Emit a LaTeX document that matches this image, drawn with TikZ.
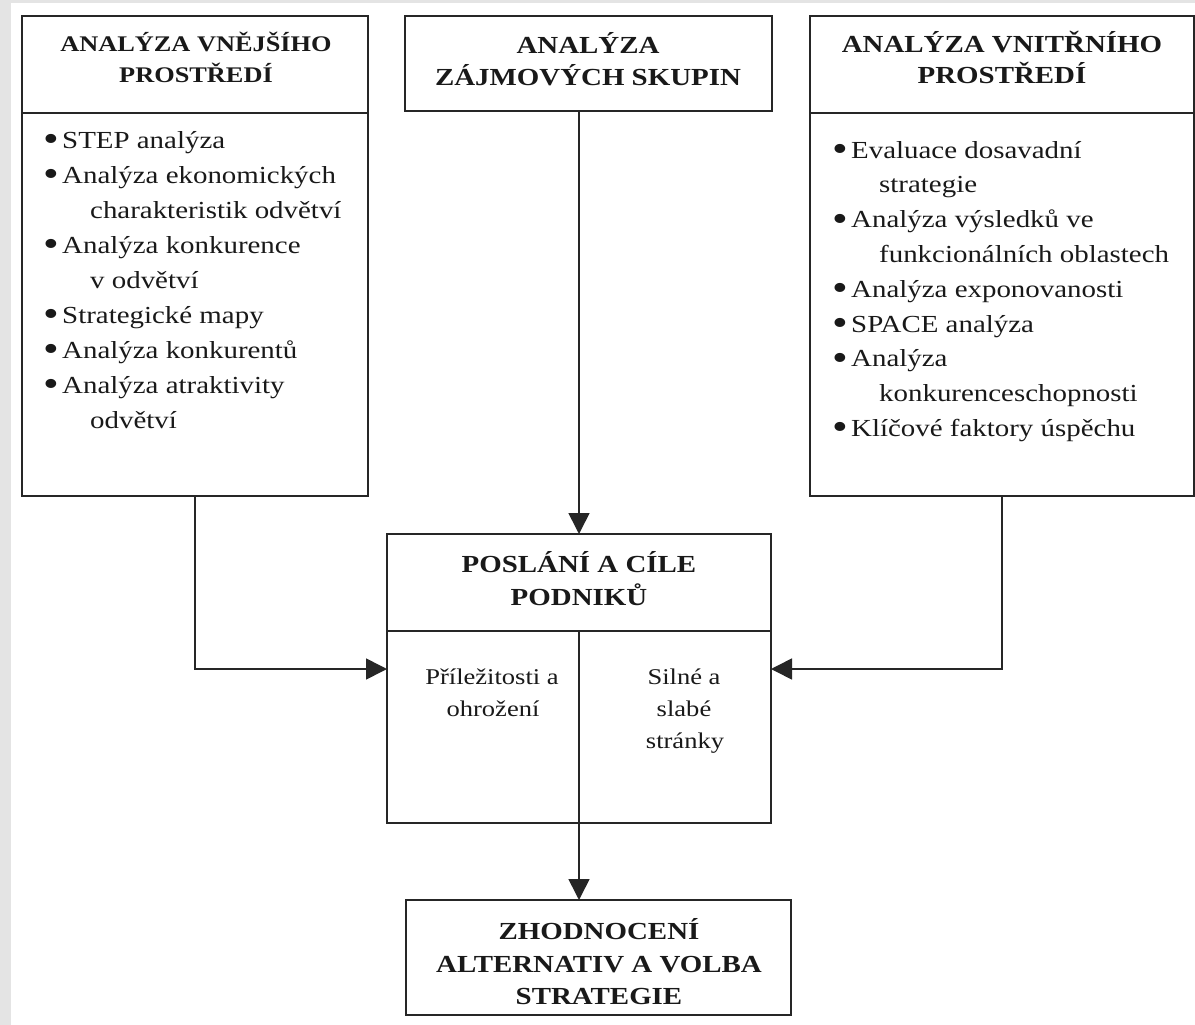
\documentclass[tikz,border=0pt]{standalone}
\usepackage{fontspec}
\setmainfont{Liberation Serif}[FakeStretch=1.18]
\usetikzlibrary{arrows.meta}
\definecolor{linecol}{HTML}{262626}
\definecolor{pagegrey}{HTML}{E4E4E4}
\tikzset{
  box/.style={draw=linecol, line width=1.6pt, rectangle, inner sep=0pt, outer sep=0pt},
  ttl/.style={anchor=base, inner sep=0pt, font=\fontsize{24.5}{30}\selectfont\bfseries, text=black!90},
  ttlsmall/.style={ttl, font=\fontsize{22.3}{28}\selectfont\bfseries},
  itm/.style={anchor=base west, inner sep=0pt, font=\fontsize{24.5}{35}\selectfont, text=black!90},
  sml/.style={anchor=base, inner sep=0pt, font=\fontsize{22.5}{32}\selectfont, text=black!90},
  arr/.style={draw=linecol, line width=1.6pt, -{Triangle[length=21pt,width=21pt]}},
}
\newcommand{\bul}{\makebox[19pt][l]{\raisebox{-3.5pt}{\scalebox{1.55}{\textbullet}}}}
\begin{document}
\begin{tikzpicture}[x=1pt,y=-1pt]
\fill[pagegrey] (0,0) rectangle (1195,1025);
\fill[white] (11,3) rectangle (1195,1025);
\useasboundingbox (0,0) rectangle (1195,1025);

% boxes
\node[box, minimum width=346pt, minimum height=97pt]  (lt) at (195,64.5) {};
\node[box, minimum width=346pt, minimum height=383pt] (lb) at (195,304.5) {};
\node[box, minimum width=367pt, minimum height=95pt]  (mt) at (588.5,63.5) {};
\node[box, minimum width=384pt, minimum height=97pt]  (rt) at (1002,64.5) {};
\node[box, minimum width=384pt, minimum height=383pt] (rb) at (1002,304.5) {};
\node[box, minimum width=384pt, minimum height=97pt]  (ct) at (579,582.5) {};
\node[box, minimum width=384pt, minimum height=192pt] (cb) at (579,727) {};
\node[box, minimum width=385pt, minimum height=115pt] (bt) at (598.5,957.5) {};

% titles
\node[ttlsmall] (lt1) at (196,52) {ANALÝZA VNĚJŠÍHO};
\node[ttlsmall] (lt2) at (196,82) {PROSTŘEDÍ};
\node[ttl] (mt1) at (588,54) {ANALÝZA};
\node[ttl] (mt2) at (588,86) {ZÁJMOVÝCH SKUPIN};
\node[ttl] (rt1) at (1002,53) {ANALÝZA VNITŘNÍHO};
\node[ttl] (rt2) at (1002,84) {PROSTŘEDÍ};
\node[ttl] (ct1) at (579,572) {POSLÁNÍ A CÍLE};
\node[ttl] (ct2) at (579,605) {PODNIKŮ};
\node[ttl] (bt1) at (599,939) {ZHODNOCENÍ};
\node[ttl] (bt2) at (599,972) {ALTERNATIV A VOLBA};
\node[ttl] (bt3) at (599,1004) {STRATEGIE};

% left list
\foreach \x/\t [count=\i] in {
  43/{\bul STEP analýza},
  43/{\bul Analýza ekonomických},
  90/{charakteristik odvětví},
  43/{\bul Analýza konkurence},
  90/{v odvětví},
  43/{\bul Strategické mapy},
  43/{\bul Analýza konkurentů},
  43/{\bul Analýza atraktivity},
  90/{odvětví}}
  \node[itm] (L\i) at (\x,{148+35*(\i-1)}) {\t};

% right list
\foreach \x/\t [count=\i] in {
  832/{\bul Evaluace dosavadní},
  879/{strategie},
  832/{\bul Analýza výsledků ve},
  879/{funkcionálních oblastech},
  832/{\bul Analýza exponovanosti},
  832/{\bul SPACE analýza},
  832/{\bul Analýza},
  879/{konkurenceschopnosti},
  832/{\bul Klíčové faktory úspěchu}}
  \node[itm] (R\i) at (\x,{158+34.8*(\i-1)}) {\t};

% center body texts
\node[sml] (c1) at (492,684) {Příležitosti a};
\node[sml] (c2) at (493,716) {ohrožení};
\node[sml] (c3) at (684,684) {Silné a};
\node[sml] (c4) at (684,716) {slabé};
\node[sml] (c5) at (685,748) {stránky};

% connectors
\draw[arr] (mt.south -| ct.north) -- (ct.north);
\draw[arr] (lb.south) |- ([yshift=58pt]cb.west);
\draw[arr] (rb.south) |- ([yshift=58pt]cb.east);
\draw[arr] (ct.south) -- (ct.south |- bt.north);
\end{tikzpicture}
\end{document}
